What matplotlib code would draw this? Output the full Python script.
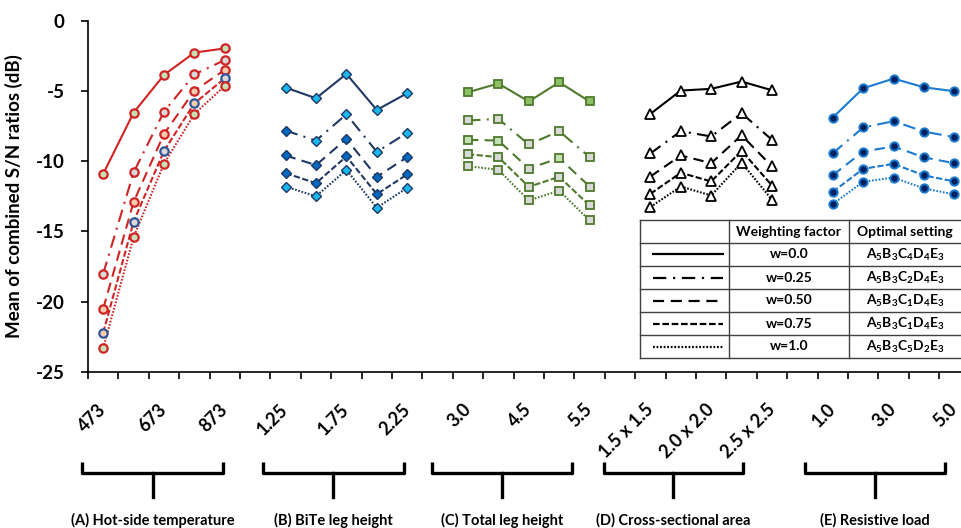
import matplotlib
matplotlib.use('Agg')
import matplotlib.pyplot as plt
from matplotlib.lines import Line2D
import matplotlib.transforms as mtransforms

plt.rcParams['font.family'] = ['Lato', 'DejaVu Sans']
plt.rcParams['mathtext.fontset'] = 'custom'
plt.rcParams['mathtext.rm'] = 'Lato:bold'
plt.rcParams['mathtext.it'] = 'Lato:bold'
plt.rcParams['mathtext.bf'] = 'Lato:bold'

# ---------------- data ----------------
weights = ['w=0.0', 'w=0.25', 'w=0.50', 'w=0.75', 'w=1.0']
optimal = [r'$\mathrm{A_5B_3C_4D_4E_3}$', r'$\mathrm{A_5B_3C_2D_4E_3}$',
           r'$\mathrm{A_5B_3C_1D_4E_3}$', r'$\mathrm{A_5B_3C_1D_4E_3}$',
           r'$\mathrm{A_5B_3C_5D_2E_3}$']

group_names = ['(A) Hot-side temperature', '(B) BiTe leg height',
               '(C) Total leg height', '(D) Cross-sectional area',
               '(E) Resistive load']
labels_A = ['473', '', '673', '', '873']
labels_B = ['1.25', '', '1.75', '', '2.25']
labels_C = ['3.0', '', '4.5', '', '5.5']
labels_D = ['1.5 x 1.5', '', '2.0 x 2.0', '', '2.5 x 2.5']
labels_E = ['1.0', '', '3.0', '', '5.0']

# rows: w=0.0, 0.25, 0.50, 0.75, 1.0 ; columns: the five levels
A_vals = [[-10.9, -6.54, -3.86, -2.27, -1.97],
          [-18.0, -10.8, -6.47, -3.82, -2.80],
          [-20.5, -12.9, -8.06, -4.98, -3.50],
          [-22.2, -14.3, -9.27, -5.88, -4.10],
          [-23.3, -15.4, -10.17, -6.63, -4.64]]
B_vals = [[-4.76, -5.52, -3.79, -6.35, -5.16],
          [-7.82, -8.53, -6.66, -9.33, -7.98],
          [-9.59, -10.28, -8.41, -11.11, -9.71],
          [-10.85, -11.56, -9.66, -12.34, -10.94],
          [-11.80, -12.50, -10.61, -13.31, -11.89]]
C_vals = [[-5.09, -4.47, -5.75, -4.38, -5.75],
          [-7.10, -6.99, -8.81, -7.86, -9.71],
          [-8.48, -8.53, -10.52, -9.78, -11.80],
          [-9.50, -9.71, -11.82, -11.11, -13.15],
          [-10.35, -10.61, -12.79, -12.10, -14.21]]
D_vals = [[-6.63, -4.97, -4.85, -4.33, -4.95],
          [-9.45, -7.86, -8.24, -6.58, -8.48],
          [-11.09, -9.59, -10.14, -8.15, -10.37],
          [-12.32, -10.82, -11.44, -9.26, -11.73],
          [-13.26, -11.80, -12.44, -10.11, -12.74]]
E_vals = [[-6.89, -4.81, -4.12, -4.74, -5.02],
          [-9.43, -7.60, -7.15, -7.89, -8.29],
          [-10.99, -9.31, -8.95, -9.73, -10.14],
          [-12.18, -10.54, -10.19, -11.01, -11.44],
          [-13.05, -11.46, -11.16, -11.94, -12.36]]

groups = [A_vals, B_vals, C_vals, D_vals, E_vals]
group_labels = [labels_A, labels_B, labels_C, labels_D, labels_E]

# ---------------- styles ----------------
linestyles = ['-', (0, (6, 3, 1, 3)), (0, (5, 3)), (0, (3, 1.2)), (0, (0.8, 0.8))]
RED = '#D02424'
NAVY = '#1F3864'
GREEN = '#4E7A2C'
BLUE = '#1C7BD0'
LG = '#C5E0B4'; GR = '#D9D9D9'; PE = '#F8CBAD'; CY = '#1BB8F0'; DB = '#0068C0'
A_face = [[LG] * 5, [GR] * 5, [PE] * 5, [PE, GR, GR, PE, GR], [LG] * 5]
A_edge = [[RED] * 5, [RED] * 5, [RED] * 5, ['#2F5597'] * 5, [RED] * 5]
B_face = [[CY] * 5, [DB, CY, CY, CY, CY], [DB] * 5, [DB, DB, DB, DB, DB], [CY] * 5]
C_face = [['#8DC064'] * 5, [GR] * 5, [LG, LG, GR, LG, GR], [GR] * 5, [GR] * 5]

fig = plt.figure(figsize=(9.61, 5.28), dpi=100)
W, H = 961.0, 528.0
slot = 30.4
ax = fig.add_axes([88 / W, (H - 372) / H, 873 / W, 351.3 / H])
ax.set_ylim(-25, 0)
ax.set_xlim(-0.5, -0.5 + 873 / slot)

for g, vals in enumerate(groups):
    xs = [g * 6 + i for i in range(5)]
    for s in range(5):
        ys = vals[s]
        if g == 0:
            ax.plot(xs, ys, color=RED, lw=1.5, ls=linestyles[s], zorder=2)
            for i in range(5):
                ax.plot(xs[i], ys[i], 'o', ms=6, mfc=A_face[s][i], mec=A_edge[s][i],
                        mew=1.6, zorder=3)
        elif g == 1:
            ax.plot(xs, ys, color=NAVY, lw=1.5, ls=linestyles[s], zorder=2)
            for i in range(5):
                ax.plot(xs[i], ys[i], 'D', ms=5, mfc=B_face[s][i], mec=NAVY,
                        mew=1.0, zorder=3)
        elif g == 2:
            ax.plot(xs, ys, color=GREEN, lw=1.5, ls=linestyles[s], zorder=2)
            for i in range(5):
                ax.plot(xs[i], ys[i], 's', ms=6, mfc=C_face[s][i], mec=GREEN,
                        mew=1.3, zorder=3)
        elif g == 3:
            ax.plot(xs, ys, color='black', lw=1.5, ls=linestyles[s], marker='^',
                    ms=6.5, mfc='white', mec='black', mew=1.3, zorder=2)
        else:
            ax.plot(xs, ys, color=BLUE, lw=1.5, ls=linestyles[s], marker='o',
                    ms=6, mfc='#002060', mec=BLUE, mew=1.4, zorder=2)

# axes / ticks
for sp in ['top', 'right']:
    ax.spines[sp].set_visible(False)
for sp in ['left', 'bottom']:
    ax.spines[sp].set_linewidth(1.2)
    ax.spines[sp].set_color('black')

ax.set_yticks([0, -5, -10, -15, -20, -25])
ax.set_yticklabels(['0', '-5', '-10', '-15', '-20', '-25'], fontsize=13.5, fontweight='bold')
ax.tick_params(axis='y', length=5, width=1.2, pad=12)

major_pos, major_lab = [], []
for g, labs in enumerate(group_labels):
    for i, lab in enumerate(labs):
        if lab:
            major_pos.append(g * 6 + i)
            major_lab.append(lab)
ax.set_xticks(major_pos)
ax.set_xticklabels(major_lab, fontsize=13, fontweight='bold')
ax.set_xticks([k - 0.5 for k in range(29)], minor=True)
ax.tick_params(axis='x', which='major', length=0, pad=25)
ax.tick_params(axis='x', which='minor', length=5, width=1.2)
for t in ax.get_xticklabels():
    t.set_rotation(45)
    t.set_ha('right')
    t.set_va('center')
    t.set_rotation_mode('anchor')

ax.set_ylabel('Mean of combined S/N ratios (dB)', fontsize=13.5, fontweight='bold')
ax.yaxis.set_label_coords(-0.075, 0.5)

# brackets under groups (layout offsets in category units)
bracket_spans = [(-0.69, 3.95, 1.64), (-0.74, 3.9, 1.57), (-1.18, 3.43, 1.13),
                 (-1.52, 3.05, 0.75), (-0.91, 3.7, 1.4)]
trans = mtransforms.blended_transform_factory(ax.transData, fig.transFigure)
y_top, y_bar, y_stem = 1 - 462 / H, 1 - 473 / H, 1 - 497 / H
for g, (l, r, c) in enumerate(bracket_spans):
    x0 = g * 6
    ln = Line2D([x0 + l, x0 + l, x0 + r, x0 + r], [y_top, y_bar, y_bar, y_top],
                transform=trans, color='black', lw=2.4, solid_joinstyle='round',
                solid_capstyle='butt', clip_on=False)
    fig.add_artist(ln)
    st = Line2D([x0 + c, x0 + c], [y_bar, y_stem], transform=trans, color='black',
                lw=2.4, clip_on=False)
    fig.add_artist(st)
    fig.text(x0 + c, 1 - 520 / H, group_names[g], transform=trans, fontsize=10.5,
             fontweight='bold', ha='center', va='center')

# legend table
col_x = [640, 729, 849, 990]
row_y = [220, 243, 266, 289, 312, 335, 358]
tc = '#404040'
for yy in row_y:
    fig.add_artist(Line2D([col_x[0] / W, col_x[3] / W], [1 - yy / H, 1 - yy / H],
                          color=tc, lw=1.0))
for xx in col_x:
    fig.add_artist(Line2D([xx / W, xx / W], [1 - row_y[0] / H, 1 - row_y[-1] / H],
                          color=tc, lw=1.0))
hy = 1 - (row_y[0] + row_y[1]) / 2 / H
fig.text((col_x[1] + col_x[2]) / 2 / W, hy, 'Weighting factor', fontsize=10,
         fontweight='bold', ha='center', va='center')
fig.text((col_x[2] + 961) / 2 / W, hy, 'Optimal setting', fontsize=10,
         fontweight='bold', ha='center', va='center')
for s in range(5):
    yc = 1 - (row_y[s + 1] + row_y[s + 2]) / 2 / H
    fig.add_artist(Line2D([653 / W, 723 / W], [yc, yc], color='black', lw=1.6,
                          ls=linestyles[s]))
    fig.text((col_x[1] + col_x[2]) / 2 / W, yc, weights[s], fontsize=10,
             fontweight='bold', ha='center', va='center')
    fig.text((col_x[2] + 961) / 2 / W, yc, optimal[s], fontsize=10,
             ha='center', va='center')

fig.savefig('out.png', dpi=100)
